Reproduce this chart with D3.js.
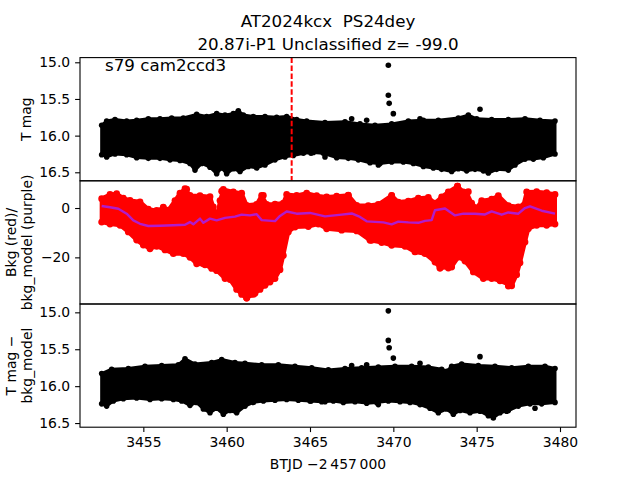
<!DOCTYPE html>
<html><head><meta charset="utf-8">
<script src="https://cdn.jsdelivr.net/npm/d3@7"></script>
<style>body{margin:0;background:#fff}text{font-family:"DejaVu Sans",sans-serif;white-space:pre}</style>
</head><body>
<svg id="c" width="640" height="480"></svg>
<script>
// ---------- data (BTJD - 2457000) ----------
const titleLines = ["AT2024kcx  PS24dey", "20.87i-P1 Unclassified z= -99.0"];
const sectorLabel = "s79 cam2ccd3";
const markerTime = 3463.9;
const xTicks = [3455, 3460, 3465, 3470, 3475, 3480];
const magTicks = [15.0, 15.5, 16.0, 16.5];
const bkgTicks = [0, -20];

// Panel 1: T mag band envelope [time, mag]
const magUpper = [[3452.5,15.86],[3452.8,15.80],[3453.3,15.78],[3454.0,15.80],[3454.6,15.79],[3455.3,15.77],[3456.0,15.77],[3456.7,15.76],[3457.4,15.76],[3458.2,15.71],[3458.8,15.74],[3459.4,15.70],[3459.9,15.72],[3460.4,15.70],[3460.7,15.66],[3461.0,15.72],[3461.6,15.74],[3462.3,15.74],[3463.0,15.75],[3463.6,15.74],[3464.2,15.78],[3464.8,15.80],[3465.9,15.82],[3467.1,15.81],[3468.0,15.84],[3468.9,15.86],[3469.9,15.84],[3470.9,15.80],[3471.8,15.79],[3472.7,15.79],[3473.9,15.76],[3474.5,15.72],[3475.0,15.77],[3475.9,15.78],[3476.9,15.78],[3477.9,15.77],[3478.8,15.79],[3479.7,15.80]];
const magLower = [[3452.5,16.26],[3452.8,16.29],[3453.3,16.25],[3454.0,16.26],[3454.6,16.30],[3455.3,16.31],[3456.0,16.31],[3456.6,16.33],[3457.2,16.34],[3457.8,16.38],[3458.1,16.47],[3458.5,16.38],[3459.0,16.43],[3459.4,16.52],[3459.7,16.44],[3460.0,16.52],[3460.4,16.45],[3460.8,16.49],[3461.3,16.42],[3461.8,16.44],[3462.3,16.40],[3462.9,16.33],[3463.5,16.29],[3464.0,16.27],[3464.6,16.24],[3465.2,16.23],[3465.8,16.24],[3466.6,16.30],[3467.3,16.31],[3467.9,16.33],[3468.6,16.37],[3469.2,16.38],[3469.9,16.36],[3470.6,16.36],[3471.2,16.38],[3471.8,16.42],[3472.4,16.44],[3472.9,16.46],[3473.5,16.49],[3473.9,16.45],[3474.4,16.48],[3474.9,16.46],[3475.4,16.48],[3475.7,16.51],[3476.2,16.46],[3476.9,16.47],[3477.3,16.40],[3477.9,16.32],[3478.4,16.32],[3479.0,16.30],[3479.7,16.25]];
const magOutliers = [[3469.7,15.04],[3469.7,15.45],[3469.75,15.56],[3470.0,15.70],[3475.2,15.64],[3467.5,15.77],[3468.4,15.79],[3471.6,15.77],[3465.06,16.24],[3465.9,16.29],[3469.1,16.40],[3476.8,16.42]];

// Panel 2: background flux (red band envelope) and model (purple) [time, value]
const bkgUpper = [[3452.5,3.8],[3453.0,5.5],[3453.4,5.8],[3453.8,4.0],[3454.2,3.1],[3454.8,2.5],[3455.3,-0.5],[3455.8,-1.0],[3456.2,0.0],[3456.5,-0.9],[3456.9,3.0],[3457.2,6.0],[3457.5,7.8],[3457.8,5.1],[3458.4,5.0],[3459.0,4.6],[3459.2,0.5],[3459.4,-4.3],[3459.6,3.0],[3459.8,7.5],[3460.4,6.5],[3460.9,6.0],[3461.2,1.1],[3461.8,1.5],[3462.1,5.1],[3462.4,1.5],[3462.9,1.6],[3463.4,2.0],[3463.6,5.5],[3464.2,5.1],[3464.8,6.0],[3465.4,5.0],[3466.0,4.5],[3466.6,4.8],[3467.3,5.2],[3467.8,1.1],[3468.5,1.0],[3469.1,1.5],[3469.9,5.1],[3470.3,2.4],[3470.9,2.8],[3471.5,4.0],[3472.1,4.3],[3472.5,2.0],[3472.9,4.5],[3473.3,6.5],[3473.85,8.9],[3474.2,6.5],[3474.4,6.2],[3474.7,2.0],[3475.0,0.0],[3475.3,3.0],[3475.9,3.6],[3476.3,5.0],[3476.9,1.0],[3477.5,0.5],[3477.8,1.0],[3478.0,6.5],[3478.6,6.6],[3479.2,6.2],[3479.7,5.5]];
const bkgLower = [[3452.5,-5.7],[3453.0,-6.5],[3453.6,-7.0],[3454.1,-9.7],[3454.6,-13.0],[3455.0,-15.0],[3455.4,-16.5],[3455.8,-15.5],[3456.3,-17.0],[3456.8,-18.5],[3457.4,-18.5],[3457.8,-20.0],[3458.2,-22.6],[3458.7,-23.0],[3459.1,-24.5],[3459.4,-25.3],[3459.9,-28.6],[3460.2,-29.0],[3460.6,-33.0],[3460.9,-35.0],[3461.2,-36.5],[3461.6,-35.0],[3462.0,-33.0],[3462.3,-31.3],[3462.6,-30.0],[3462.9,-28.6],[3463.2,-25.0],[3463.4,-19.2],[3463.7,-9.7],[3464.1,-7.7],[3464.9,-7.5],[3465.5,-6.5],[3466.0,-8.4],[3466.9,-9.0],[3467.8,-9.3],[3468.6,-13.1],[3469.3,-14.0],[3469.9,-15.1],[3470.7,-15.5],[3471.3,-17.8],[3471.9,-18.5],[3472.5,-21.9],[3472.8,-24.3],[3473.5,-23.9],[3473.9,-19.9],[3474.3,-21.5],[3474.8,-25.9],[3475.4,-28.6],[3475.9,-28.6],[3476.4,-29.5],[3476.9,-31.0],[3477.1,-31.5],[3477.4,-27.0],[3477.6,-22.2],[3477.9,-13.8],[3478.1,-8.4],[3478.6,-7.0],[3479.2,-7.0],[3479.7,-6.5]];
const bkgOutliers = [[3456.2,0.4],[3457.6,7.6],[3459.7,6.8],[3459.4,-25.3],[3458.6,-22.6],[3460.9,-33.4],[3461.2,-36.5],[3461.7,-34.5],[3462.1,-31.3],[3462.2,5.1],[3467.3,5.1],[3469.9,5.0],[3473.85,8.9],[3472.8,-24.3],[3473.3,-24.3],[3474.5,6.6],[3476.9,-31.6],[3468.7,-13.1]];
const bkgModel = [[3452.5,0.8],[3453.0,0.3],[3453.5,-0.3],[3454.0,-2.3],[3454.4,-5.0],[3454.8,-6.4],[3455.3,-7.3],[3456.0,-7.2],[3456.8,-7.0],[3457.5,-6.8],[3457.8,-5.7],[3458.0,-6.6],[3458.4,-4.3],[3458.6,-6.0],[3459.0,-4.3],[3459.4,-5.0],[3459.9,-4.0],[3460.5,-3.5],[3460.9,-2.7],[3461.4,-3.0],[3461.8,-2.5],[3462.1,-4.9],[3462.9,-5.3],[3463.2,-3.2],[3463.6,-1.4],[3464.2,-2.3],[3465.0,-2.0],[3465.9,-3.4],[3466.9,-2.7],[3467.5,-2.2],[3468.0,-3.6],[3468.4,-5.4],[3469.4,-5.8],[3469.9,-6.6],[3470.3,-5.5],[3470.9,-5.8],[3471.5,-6.0],[3471.9,-5.2],[3472.3,-4.9],[3472.5,-0.9],[3473.1,-0.2],[3473.7,-3.0],[3474.2,-2.3],[3474.9,-2.3],[3475.5,-2.6],[3475.9,-1.4],[3476.5,-2.7],[3476.9,-1.8],[3477.5,-2.3],[3477.9,0.0],[3478.2,0.7],[3478.9,-1.1],[3479.7,-2.3]];

// Panel 3: T mag - bkg_model band envelope [time, mag]
const corrUpper = [[3452.5,15.83],[3453.1,15.77],[3454.1,15.76],[3455.1,15.73],[3456.1,15.72],[3457.1,15.71],[3457.5,15.63],[3458.1,15.70],[3459.1,15.68],[3459.7,15.64],[3460.5,15.68],[3461.1,15.69],[3462.1,15.71],[3463.1,15.71],[3464.1,15.73],[3465.1,15.75],[3466.1,15.78],[3467.1,15.76],[3468.1,15.75],[3469.1,15.74],[3470.1,15.73],[3471.1,15.73],[3472.1,15.74],[3472.9,15.77],[3473.2,15.80],[3473.5,15.73],[3474.1,15.70],[3475.1,15.72],[3476.1,15.73],[3477.1,15.75],[3478.1,15.73],[3479.1,15.73],[3479.7,15.76]];
const corrLower = [[3452.5,16.24],[3452.8,16.27],[3453.2,16.20],[3453.8,16.17],[3454.6,16.16],[3455.4,16.18],[3456.1,16.17],[3456.8,16.18],[3457.3,16.20],[3457.8,16.26],[3458.2,16.22],[3458.6,16.31],[3459.0,16.36],[3459.4,16.30],[3459.8,16.38],[3460.2,16.33],[3460.6,16.36],[3461.1,16.27],[3461.6,16.22],[3462.2,16.20],[3462.9,16.19],[3463.6,16.18],[3464.3,16.19],[3465.0,16.20],[3465.7,16.21],[3466.4,16.20],[3467.0,16.22],[3467.7,16.21],[3468.4,16.23],[3469.0,16.22],[3469.7,16.20],[3470.4,16.21],[3471.0,16.22],[3471.6,16.25],[3472.2,16.30],[3472.7,16.36],[3473.2,16.31],[3473.6,16.38],[3474.0,16.33],[3474.6,16.36],[3475.2,16.34],[3475.7,16.40],[3476.0,16.43],[3476.4,16.36],[3476.9,16.33],[3477.5,16.27],[3478.2,16.24],[3478.9,16.24],[3479.7,16.22]];
const corrOutliers = [[3469.7,14.98],[3469.7,15.38],[3469.75,15.48],[3470.0,15.62],[3475.2,15.60],[3467.5,15.72],[3468.4,15.71],[3471.6,15.69],[3465.06,16.20],[3465.9,16.21],[3469.1,16.25],[3476.8,16.34],[3478.5,16.30]];

// ---------- layout ----------
const svg = d3.select("#c");
const L = 80, R = 576;
const tops = [57.6, 180.8, 304.0], H = 123.2;
const FS = 13.9;
const x = d3.scaleLinear().domain([3451.2, 3480.96]).range([L, R]);
const y1 = d3.scaleLinear().domain([14.936, 16.616]).range([tops[0], tops[0]+H]);
const y2 = d3.scaleLinear().domain([11.03, -38.9]).range([tops[1], tops[1]+H]);
const y3 = d3.scaleLinear().domain([14.887, 16.556]).range([tops[2], tops[2]+H]);

const defs = svg.append("defs");
tops.forEach((t,i)=>{
  defs.append("clipPath").attr("id","clip"+i).append("rect")
    .attr("x",L).attr("y",t).attr("width",R-L).attr("height",H);
});

function band(g, upper, lower, ys, color, sw, r){
  const pts = upper.concat(lower.slice().reverse());
  const line = d3.line().x(d=>x(d[0])).y(d=>ys(d[1]));
  g.append("path").attr("d", line(pts)+"Z")
    .attr("fill", color).attr("stroke", color)
    .attr("stroke-width", sw).attr("stroke-linejoin","round");
  dots(g, pts, ys, color, r);
}
function dots(g, arr, ys, color, r){
  g.selectAll(null).data(arr).enter().append("circle")
    .attr("cx",d=>x(d[0])).attr("cy",d=>ys(d[1])).attr("r",r).attr("fill",color);
}
function yAxis(ys, ticks, fmt){
  const ax = d3.axisLeft(ys).tickValues(ticks).tickFormat(fmt).tickSize(4.9).tickPadding(4.9);
  const g = svg.append("g").attr("transform",`translate(${L},0)`).call(ax);
  g.select(".domain").remove();
  g.selectAll("line").attr("stroke","#000").attr("stroke-width",1.1);
  g.selectAll("text").attr("font-size",FS).attr("font-family","DejaVu Sans").attr("fill","#000");
}

// Panel 1
const g1 = svg.append("g").attr("clip-path","url(#clip0)");
band(g1, magUpper, magLower, y1, "#000", 3, 2.8);
dots(g1, magOutliers, y1, "#000", 2.8);
g1.append("line").attr("x1",x(markerTime)).attr("x2",x(markerTime))
  .attr("y1",tops[0]).attr("y2",tops[0]+H)
  .attr("stroke","#ff0000").attr("stroke-width",2).attr("stroke-dasharray","5.5,2.4");
svg.append("text").attr("x",105).attr("y",70.5).attr("font-size",16.7).text(sectorLabel);

// Panel 2
const g2 = svg.append("g").attr("clip-path","url(#clip1)");
band(g2, bkgUpper, bkgLower, y2, "#ff0000", 4, 3.4);
dots(g2, bkgOutliers, y2, "#ff0000", 3.4);
g2.append("path").attr("d", d3.line().x(d=>x(d[0])).y(d=>y2(d[1]))(bkgModel))
  .attr("fill","none").attr("stroke","#b01ccc").attr("stroke-width",2.4).attr("stroke-linejoin","round");

// Panel 3
const g3 = svg.append("g").attr("clip-path","url(#clip2)");
band(g3, corrUpper, corrLower, y3, "#000", 3, 2.8);
dots(g3, corrOutliers, y3, "#000", 2.8);

// Frames
tops.forEach(t=>{
  svg.append("rect").attr("x",L).attr("y",t).attr("width",R-L).attr("height",H)
    .attr("fill","none").attr("stroke","#000").attr("stroke-width",1.1);
});

// Axes
yAxis(y1, magTicks, d3.format(".1f"));
yAxis(y2, bkgTicks, d3.format("d"));
yAxis(y3, magTicks, d3.format(".1f"));
const xa = d3.axisBottom(x).tickValues(xTicks).tickFormat(d3.format("d")).tickSize(4.9).tickPadding(4.9);
const gx = svg.append("g").attr("transform",`translate(0,${tops[2]+H})`).call(xa);
gx.select(".domain").remove();
gx.selectAll("line").attr("stroke","#000").attr("stroke-width",1.1);
gx.selectAll("text").attr("font-size",FS).attr("font-family","DejaVu Sans").attr("fill","#000");

// Labels
svg.append("text").attr("x",328).attr("y",469).attr("text-anchor","middle").attr("font-size",FS)
  .text("BTJD \u22122\u2009457\u2009000");
function ylab(lines, cy){
  const g = svg.append("g");
  const xs = lines.length===1 ? [31] : [15.5, 31.5];
  lines.forEach((s,i)=>{
    g.append("text").attr("transform",`translate(${xs[i]},${cy}) rotate(-90)`)
      .attr("text-anchor","middle").attr("font-size",FS).text(s);
  });
}
ylab(["T mag"], tops[0]+H/2);
ylab(["Bkg (red)/","bkg_model (purple)"], tops[1]+H/2);
ylab(["T mag \u2212","bkg_model"], tops[2]+H/2);

// Title
svg.selectAll(null).data(titleLines).enter().append("text")
  .attr("x",328).attr("y",(d,i)=>27+i*22.5).attr("text-anchor","middle")
  .attr("font-size",16.7).attr("xml:space","preserve").text(d=>d);
</script>
</body></html>
